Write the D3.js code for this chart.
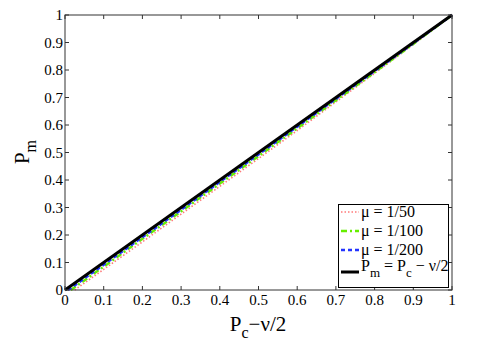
<!DOCTYPE html>
<html lang="en">
<head>
  <meta charset="UTF-8">
  <title>Pm vs Pc - v/2</title>
  <script src="https://d3js.org/d3.v7.min.js"></script>
  <style>
    body { margin: 0; padding: 0; background: #fff; }
  </style>
</head>
<body>
  <div id="chart"></div>
  <script>
    // values
    const xTicks = [0, 0.1, 0.2, 0.3, 0.4, 0.5, 0.6, 0.7, 0.8, 0.9, 1];
    const yTicks = [0, 0.1, 0.2, 0.3, 0.4, 0.5, 0.6, 0.7, 0.8, 0.9, 1];

    const xRed = [0.025, 0.1, 0.2, 0.3, 0.4, 0.5, 0.6, 0.7, 0.8, 0.9, 1];
    const yRed = [0, 0.075, 0.175, 0.276, 0.377, 0.478, 0.58, 0.684, 0.788, 0.893, 1];
    const xGreen = [0.015, 0.1, 0.2, 0.3, 0.4, 0.5, 0.6, 0.7, 0.8, 0.9, 1];
    const yGreen = [0, 0.085, 0.186, 0.286, 0.387, 0.487, 0.588, 0.69, 0.792, 0.895, 1];
    const xBlue = [0.008, 0.1, 0.2, 0.3, 0.4, 0.5, 0.6, 0.7, 0.8, 0.9, 1];
    const yBlue = [0, 0.092, 0.192, 0.292, 0.393, 0.493, 0.594, 0.695, 0.796, 0.897, 1];
    const xBlack = [0, 1];
    const yBlack = [0, 1];

    const width = 498, height = 361;
    const m = { left: 65, right: 46, top: 15, bottom: 71 };
    const serif = "'Liberation Serif', 'Times New Roman', Times, serif";

    const svg = d3.select("#chart").append("svg")
      .attr("width", width).attr("height", height)
      .attr("font-family", serif)
      .style("display", "block");

    const x = d3.scaleLinear().domain([0, 1]).range([m.left, width - m.right]);
    const y = d3.scaleLinear().domain([0, 1]).range([height - m.bottom, m.top]);

    const series = [
      { xs: xRed, ys: yRed, color: "#ff7a7a", w: 1.6, dash: "1.5,2", label: "μ = 1/50" },
      { xs: xGreen, ys: yGreen, color: "#66ee00", w: 2.5, dash: "6,3,2,3", label: "μ = 1/100" },
      { xs: xBlue, ys: yBlue, color: "#2233ff", w: 2.5, dash: "4,3", label: "μ = 1/200" },
      { xs: xBlack, ys: yBlack, color: "#000", w: 3, dash: null }
    ];

    const line = d3.line().x(d => x(d[0])).y(d => y(d[1]));

    series.forEach(s => {
      svg.append("path")
        .datum(s.xs.map((v, i) => [v, s.ys[i]]))
        .attr("d", line)
        .attr("fill", "none")
        .attr("stroke", s.color)
        .attr("stroke-width", s.w)
        .attr("stroke-dasharray", s.dash);
    });

    // axes box with inward ticks on all sides
    const x0 = x(0), x1 = x(1), y0 = y(0), y1 = y(1);
    svg.append("rect")
      .attr("x", x0).attr("y", y1)
      .attr("width", x1 - x0).attr("height", y0 - y1)
      .attr("fill", "none").attr("stroke", "#333").attr("stroke-width", 1);

    const tl = 4;
    const ticks = svg.append("g").attr("stroke", "#333").attr("stroke-width", 1);
    xTicks.forEach(t => {
      ticks.append("line").attr("x1", x(t)).attr("x2", x(t)).attr("y1", y0).attr("y2", y0 - tl);
      ticks.append("line").attr("x1", x(t)).attr("x2", x(t)).attr("y1", y1).attr("y2", y1 + tl);
    });
    yTicks.forEach(t => {
      ticks.append("line").attr("y1", y(t)).attr("y2", y(t)).attr("x1", x0).attr("x2", x0 + tl);
      ticks.append("line").attr("y1", y(t)).attr("y2", y(t)).attr("x1", x1).attr("x2", x1 - tl);
    });

    svg.append("g").selectAll("text").data(xTicks).join("text")
      .attr("x", d => x(d)).attr("y", y0 + 15)
      .attr("text-anchor", "middle").attr("font-size", 15)
      .text(d => d3.format("")(d));

    svg.append("g").selectAll("text").data(yTicks).join("text")
      .attr("x", x0 - 2).attr("y", d => y(d) + 5)
      .attr("text-anchor", "end").attr("font-size", 15)
      .text(d => d3.format("")(d));

    // axis labels
    const xl = svg.append("text")
      .attr("x", 258).attr("y", 331)
      .attr("text-anchor", "middle").attr("font-size", 21);
    xl.append("tspan").text("P");
    xl.append("tspan").attr("dy", 7).attr("font-size", 16).text("c");
    xl.append("tspan").attr("dy", -7).text("−ν/2");

    const yl = svg.append("text")
      .attr("transform", "translate(29,152) rotate(-90)")
      .attr("text-anchor", "middle").attr("font-size", 21);
    yl.append("tspan").text("P");
    yl.append("tspan").attr("dy", 7).attr("font-size", 16).text("m");

    // legend
    const lg = svg.append("g");
    lg.append("rect")
      .attr("x", 338.5).attr("y", 204.5).attr("width", 110).attr("height", 83)
      .attr("fill", "#fff").attr("stroke", "#000").attr("stroke-width", 1);

    const rows = [212, 231, 250, 272];
    series.forEach((s, i) => {
      lg.append("line")
        .attr("x1", 341).attr("x2", 359).attr("y1", rows[i]).attr("y2", rows[i])
        .attr("stroke", s.color).attr("stroke-width", s.w)
        .attr("stroke-dasharray", s.dash);
      if (s.label) {
        lg.append("text").attr("x", 361).attr("y", rows[i] + 5)
          .attr("font-size", 16).text(s.label);
      }
    });
    const lt = lg.append("text").attr("x", 361).attr("y", rows[3] - 1).attr("font-size", 16);
    lt.append("tspan").text("P");
    lt.append("tspan").attr("dy", 6).attr("font-size", 13).text("m");
    lt.append("tspan").attr("dy", -6).text(" = P");
    lt.append("tspan").attr("dy", 6).attr("font-size", 13).text("c");
    lt.append("tspan").attr("dy", -6).text(" − ν/2");
  </script>
</body>
</html>
